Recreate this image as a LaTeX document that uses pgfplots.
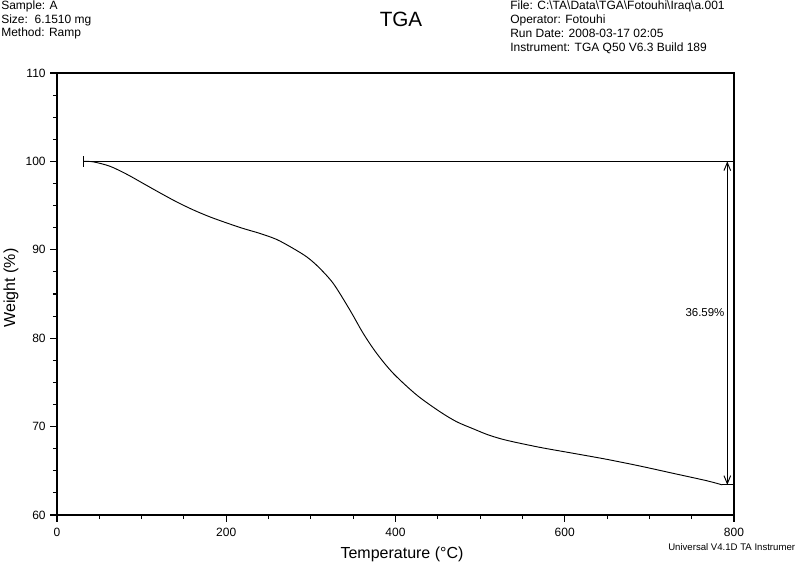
\documentclass[border=0pt]{standalone}
\usepackage{pgfplots}
\pgfplotsset{compat=1.18}
\usepackage{pgfplotstable}
\usepackage{fontspec}
\setmainfont{Liberation Sans}
\usetikzlibrary{arrows.meta}
\pgfplotstableread{
T W
31.1 100.0
42.9 99.95
62.6 99.45
82.4 98.55
102.0 97.50
121.7 96.44
141.4 95.42
161.1 94.51
180.8 93.72
200.5 93.04
220.1 92.41
239.9 91.85
259.6 91.17
279.2 90.15
295.1 89.20
308.8 88.07
326.5 86.19
346.2 83.17
361.9 80.54
377.8 78.28
397.4 76.02
425.1 73.57
452.6 71.68
472.3 70.55
491.9 69.75
510.0 69.05
531.4 68.45
570.8 67.65
610.1 66.98
649.6 66.30
688.9 65.54
728.3 64.71
767.7 63.88
786.0 63.41
}\tga
\begin{document}
\begin{tikzpicture}
\useasboundingbox (0,0) rectangle (599.25pt,-423pt);
\begin{axis}[
  at={(42.75pt,-386.25pt)}, anchor=south west,
  scale only axis, width=507.75pt, height=331.5pt,
  xmin=0, xmax=800, ymin=60, ymax=110,
  xtick={0,200,400,600,800}, ytick={60,70,80,90,100,110},
  minor x tick num=3, minor y tick num=3,
  tick pos=left, tick align=outside,
  major tick length=5pt, minor tick length=3pt,
  axis line style={line width=1.1pt},
  every tick/.style={black, line width=0.8pt},
  ticklabel style={font=\fontsize{9}{10}\selectfont},
  /pgf/number format/assume math mode=true,
  xticklabel style={yshift=-1pt},
  clip=false,
]
\addplot[black, line width=0.7pt, smooth] table[x=T,y=W] {\tga};
\addplot[black, line width=0.8pt] coordinates {(31.1,100) (800,100)};
\addplot[black, line width=0.8pt] coordinates {(31.1,99.42) (31.1,100.58)};
\addplot[black, line width=0.8pt] coordinates {(786,63.41) (800,63.41)};
\addplot[black, line width=0.7pt, {Straight Barb[length=6pt,width=5pt]}-{Straight Barb[length=6pt,width=5pt]}] coordinates {(792.1,100) (792.1,63.41)};
\node[anchor=base east, inner sep=0pt, font=\fontsize{8.6}{10}\selectfont] at (axis cs:789,82.42) {36.59\%};
\end{axis}
\begin{scope}[x=0.75pt,y=-0.75pt, every node/.style={inner sep=0pt}]
\begin{scope}[every node/.append style={anchor=base west, font=\fontsize{9}{10.3}\selectfont}]
\node at (1,9.5) {Sample: A};
\node at (1,23.2) {Size:\ \ 6.1510 mg};
\node at (1,36.9) {Method: Ramp};
\node at (510,9.3) {File: C:\textbackslash TA\textbackslash Data\textbackslash TGA\textbackslash Fotouhi\textbackslash Iraq\textbackslash a.001};
\node at (510,23.3) {Operator: Fotouhi};
\node at (510,37.5) {Run Date: 2008-03-17 02:05};
\node at (510,51.6) {Instrument: TGA Q50 V6.3 Build 189};
\end{scope}
\node[anchor=base, font=\fontsize{15.5}{18}\selectfont] at (401,26.7) {TGA};
\node[anchor=base, font=\fontsize{12}{14}\selectfont] at (402,558) {Temperature (°C)};
\node[anchor=base, rotate=90, font=\fontsize{12}{14}\selectfont] at (15,288) {Weight (\%)};
\node[anchor=base west, font=\fontsize{7.2}{9}\selectfont] at (668,550) {Universal V4.1D TA Instrumer};
\end{scope}
\end{tikzpicture}
\end{document}
